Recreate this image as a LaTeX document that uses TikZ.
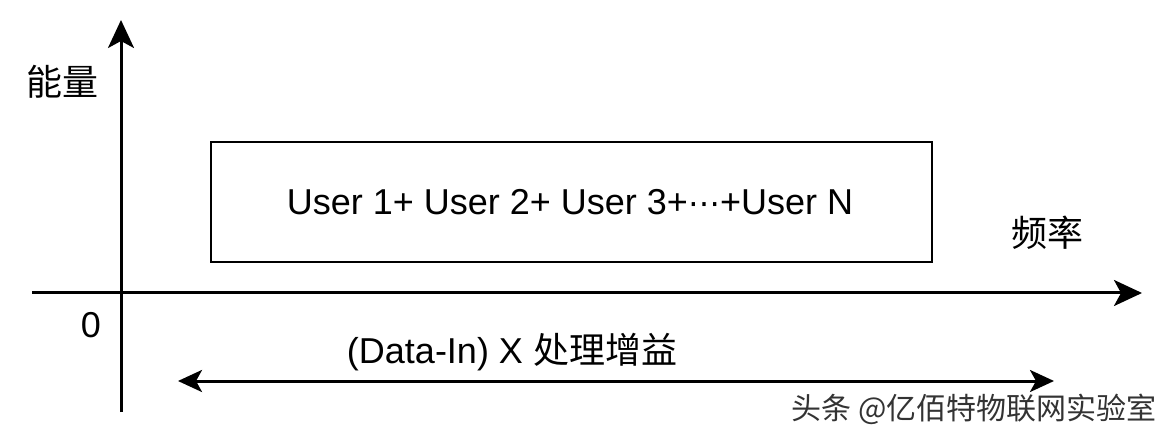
\documentclass[tikz,border=0pt]{standalone}
\usepackage{fontspec}
\setmainfont{Liberation Sans}
\newfontfamily\cjk{Noto Sans CJK SC}
\newfontfamily\djv{DejaVu Sans}
\usetikzlibrary{arrows.meta}
\begin{document}
\begin{tikzpicture}[x=1pt,y=-1pt,
  axis/.style={line width=3pt,-{Stealth[length=28pt,width=26pt,inset=7pt]}},
  dbl/.style={line width=3pt,{Stealth[length=24pt,width=22pt,inset=6pt]}-{Stealth[length=24pt,width=22pt,inset=6pt]}},
  lbl/.style={inner sep=0pt,font=\fontsize{36}{40}\selectfont},
  boxst/.style={draw,line width=2.2pt,minimum width=721pt,minimum height=120pt,inner sep=0pt}]
\useasboundingbox (0,0) rectangle (1167,438);
\coordinate (ybot) at (121,412);
\coordinate (ytop) at (121,20);
\coordinate (xl) at (32,293);
\coordinate (xr) at (1142,293);
\draw[axis] (ybot) -- (ytop);
\draw[axis] (xl) -- (xr);
\node[boxst] (box) at (571.5,202) {};
\node[lbl] (users) at (570,202) {User 1+ User 2+ User 3+{\djv\fontsize{32}{36}\selectfont ⋯}+User N};
\node[lbl] (energy) at (62,82) {\cjk 能量};
\node[lbl] (freq) at (1047,233) {\cjk 频率};
\node[lbl] (zero) at (91,325) {0};
\node[lbl] (gain) at (512,352) {(Data-In) X {\cjk 处理增益}};
\coordinate (al) at (178,381);
\coordinate (ar) at (1054,381);
\draw[dbl] (al) -- (ar);
\node[inner sep=0pt,font=\fontsize{30}{34}\selectfont\cjk,text=black!80] (wm) at (974,409) {头条 @亿佰特物联网实验室};
\end{tikzpicture}
\end{document}
